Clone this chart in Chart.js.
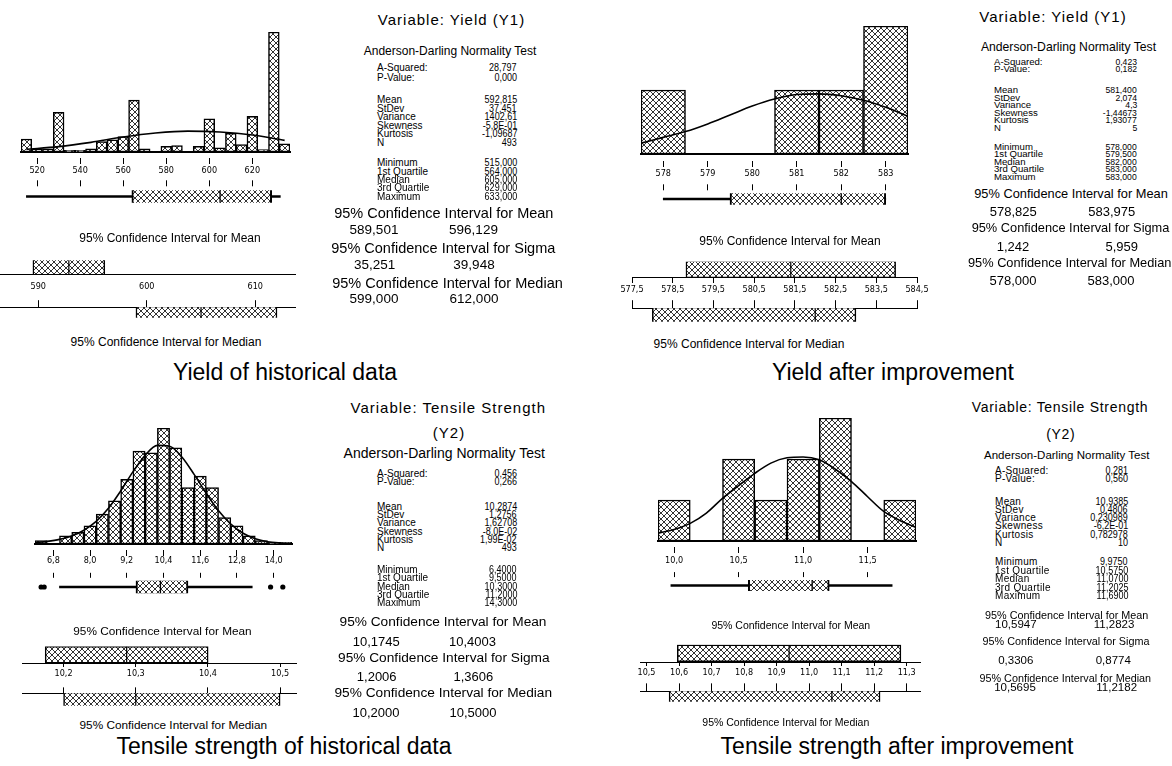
<!DOCTYPE html>
<html>
<head>
<meta charset="utf-8">
<script src="https://cdn.jsdelivr.net/npm/chart.js@4.4.1/dist/chart.umd.min.js"></script>
<style>
  html, body { margin: 0; padding: 0; background: #fff; }
  #fig { position: relative; width: 1172px; height: 766px; overflow: hidden; background: #fff;
         font-family: Arial, "Liberation Sans", sans-serif; color: #000; }
  #fig canvas { position: absolute; }
  .t { position: absolute; white-space: nowrap; line-height: 1; }
</style>
</head>
<body>
<div id="fig"></div>
<script>
// ---------- data ----------
// Yield (Y1), historical data
const yhBins = [515, 520, 525, 530, 535, 540, 545, 550, 555, 560, 565, 570, 575, 580, 585, 590, 595, 600, 605, 610, 615, 620, 625, 630, 635];
const yhCounts = [16, 4, 4, 49, 2, 2, 4, 13, 15, 19, 64, 4, 0, 7, 8, 0, 7, 41, 5, 23, 9, 44, 3, 148, 10];
const yhCurveX = [515, 530, 545, 560, 575, 590, 605, 620, 635];
const yhCurveY = [3.3, 6.6, 11.9, 18.5, 23.4, 25.8, 24.6, 20.9, 14.3];
const yhTicks = [520, 540, 560, 580, 600, 620];
const yhTickLabels = ['520', '540', '560', '580', '600', '620'];
const yhBox = [515, 564, 605, 629, 633];
const yhOutliers = [];
const yhMeanCI = [589.501, 592.815, 596.129];
const yhMedianCI = [599, 605, 612];
const yhCITicks = [590, 600, 610];
const yhCITickLabels = ['590', '600', '610'];

// Yield (Y1), after improvement
const yiBins = [578, 579, 580, 581, 582, 583];
const yiCounts = [1, 0, 0, 1, 1, 2];
const yiCurveX = [577.5, 578, 578.5, 579, 579.5, 580, 580.5, 581, 581.5, 582, 582.5, 583, 583.5];
const yiCurveY = [0.17, 0.26, 0.35, 0.47, 0.61, 0.75, 0.86, 0.93, 0.94, 0.91, 0.84, 0.73, 0.59];
const yiTicks = [578, 579, 580, 581, 582, 583];
const yiTickLabels = ['578', '579', '580', '581', '582', '583'];
const yiBox = [578, 579.5, 582, 583, 583];
const yiOutliers = [];
const yiMeanCI = [578.825, 581.4, 583.975];
const yiMedianCI = [578, 582, 583];
const yiCITicks = [577.5, 578.5, 579.5, 580.5, 581.5, 582.5, 583.5, 584.5];
const yiCITickLabels = ['577,5', '578,5', '579,5', '580,5', '581,5', '582,5', '583,5', '584,5'];

// Tensile Strength (Y2), historical data
const thBins = [6.4, 6.8, 7.2, 7.6, 8.0, 8.4, 8.8, 9.2, 9.6, 10.0, 10.4, 10.8, 11.2, 11.6, 12.0, 12.4, 12.8, 13.2, 13.6, 14.0, 14.4];
const thCounts = [2, 0, 5, 7, 11, 18, 26, 39, 56, 55, 70, 58, 34, 41, 34, 16, 11, 5, 2, 1, 1];
const thCurveX = [6.2, 6.6, 7.0, 7.4, 7.8, 8.2, 8.6, 9.0, 9.4, 9.8, 10.2, 10.6, 11.0, 11.4, 11.8, 12.2, 12.6, 13.0, 13.4, 13.8, 14.2, 14.6];
const thCurveY = [0.8, 1.6, 2.8, 4.8, 8.3, 13.6, 21.5, 32, 43.5, 53.5, 59.5, 59, 52.5, 42, 30.5, 20, 12, 6.5, 3.2, 1.4, 0.6, 0.2];
const thTicks = [6.8, 8.0, 9.2, 10.4, 11.6, 12.8, 14.0];
const thTickLabels = ['6,8', '8,0', '9,2', '10,4', '11,6', '12,8', '14,0'];
const thBox = [7.0, 9.5, 10.3, 11.2, 13.3];
const thOutliers = [6.4, 6.5, 13.9, 14.3];
const thMeanCI = [10.1745, 10.2874, 10.4003];
const thMedianCI = [10.2, 10.3, 10.5];
const thCITicks = [10.2, 10.3, 10.4, 10.5];
const thCITickLabels = ['10,2', '10,3', '10,4', '10,5'];

// Tensile Strength (Y2), after improvement
const tiBins = [10.0, 10.25, 10.5, 10.75, 11.0, 11.25, 11.5, 11.75];
const tiCounts = [1, 0, 2, 1, 2, 3, 0, 1];
const tiCurveX = [9.875, 10.0, 10.125, 10.25, 10.375, 10.5, 10.625, 10.75, 10.875, 11.0, 11.125, 11.25, 11.375, 11.5, 11.625, 11.75, 11.875];
const tiCurveY = [0.19, 0.28, 0.43, 0.68, 1.04, 1.35, 1.65, 1.9, 2.03, 2.05, 1.98, 1.75, 1.45, 1.08, 0.72, 0.5, 0.33];
const tiTicks = [10.0, 10.5, 11.0, 11.5];
const tiTickLabels = ['10,0', '10,5', '11,0', '11,5'];
const tiBox = [9.975, 10.575, 11.07, 11.2025, 11.69];
const tiOutliers = [];
const tiMeanCI = [10.5947, 10.9385, 11.2823];
const tiMedianCI = [10.5695, 11.07, 11.2182];
const tiCITicks = [10.5, 10.6, 10.7, 10.8, 10.9, 11.0, 11.1, 11.2, 11.3];
const tiCITickLabels = ['10,5', '10,6', '10,7', '10,8', '10,9', '11,0', '11,1', '11,2', '11,3'];

// summary text
const statNames = ['A-Squared:', 'P-Value:', 'Mean', 'StDev', 'Variance', 'Skewness', 'Kurtosis', 'N',
                   'Minimum', '1st Quartile', 'Median', '3rd Quartile', 'Maximum'];
const ciNames = ['95% Confidence Interval for Mean', '95% Confidence Interval for Sigma', '95% Confidence Interval for Median'];
const yhStats = ['28,797', '0,000', '592,815', '37,451', '1402,61', '-5,8E-01', '-1,09687', '493', '515,000', '564,000', '605,000', '629,000', '633,000'];
const yhCIText = [['589,501', '596,129'], ['35,251', '39,948'], ['599,000', '612,000']];
const yiStats = ['0,423', '0,182', '581,400', '2,074', '4,3', '-1,44673', '1,93077', '5', '578,000', '579,500', '582,000', '583,000', '583,000'];
const yiCIText = [['578,825', '583,975'], ['1,242', '5,959'], ['578,000', '583,000']];
const thStats = ['0,456', '0,266', '10,2874', '1,2756', '1,62708', '-8,0E-02', '1,99E-02', '493', '6,4000', '9,5000', '10,3000', '11,2000', '14,3000'];
const thCIText = [['10,1745', '10,4003'], ['1,2006', '1,3606'], ['10,2000', '10,5000']];
const tiStats = ['0,281', '0,560', '10,9385', '0,4806', '0,230989', '-6,2E-01', '0,782978', '10', '9,9750', '10,5750', '11,0700', '11,2025', '11,6900'];
const tiCIText = [['10,5947', '11,2823'], ['0,3306', '0,8774'], ['10,5695', '11,2182']];

// ---------- layout ----------
const G1 = {
  hist: { left: 20.5, right: 290, min: 512.5, max: 637.5, top: 32, base: 152, tickGap: 6, tickLen: 6, labelY: 171, ymax: 148 },
  box: { tickTop: 180, tickLen: 6, boxCenter: 201.7, boxH: 18 },
  ciA: { left: 0, right: 295, min: 586.47, max: 613.66, lineY: 274, labelY: 287, boxCenter: 262, boxH: 18, tickLen: 0 },
  ciB: { tickTop: 296, lineY: 303, boxCenter: 316, boxH: 20 },
  meanLabel: [170, 238, 12], medianLabel: [166, 341.7, 12],
  caption: ['Yield of historical data', 285, 372]
};
const G2 = {
  hist: { left: 640.7, right: 908.3, min: 577.5, max: 583.5, top: 26, base: 154, tickGap: 7, tickLen: 6, labelY: 173.3, ymax: 2 },
  box: { tickTop: 183, tickLen: 6, boxCenter: 203.7, boxH: 18 },
  ciA: { left: 631.7, right: 917.3, min: 577.5, max: 584.5, lineY: 277, labelY: 290, boxCenter: 264.7, boxH: 17, tickLen: 5 },
  ciB: { tickTop: 297, lineY: 305, boxCenter: 319, boxH: 20 },
  meanLabel: [790, 240.7, 12], medianLabel: [749, 344.3, 12],
  caption: ['Yield after improvement', 893, 372]
};
const G3 = {
  hist: { left: 34.9, right: 292.4, min: 6.2, max: 14.6, top: 428.3, base: 544, tickGap: 6, tickLen: 6, labelY: 560.7, ymax: 70 },
  box: { tickTop: 570.7, tickLen: 4.5, boxCenter: 590.8, boxH: 17 },
  ciA: { left: 21.7, right: 296, min: 10.1424, max: 10.522, lineY: 663.3, labelY: 674, boxCenter: 650, boxH: 16.6, tickLen: 3 },
  ciB: { tickTop: 682.7, lineY: 689.3, boxCenter: 703, boxH: 18.3 },
  meanLabel: [162.5, 632.3, 11.8], medianLabel: [173.3, 725.7, 11.8],
  caption: ['Tensile strength of historical data', 284, 746]
};
const G4 = {
  hist: { left: 657.7, right: 915.7, min: 9.875, max: 11.875, top: 417.7, base: 541, tickGap: 5.7, tickLen: 6.3, labelY: 560.7, ymax: 3 },
  box: { tickTop: 570, tickLen: 5, boxCenter: 589.5, boxH: 17.6 },
  ciA: { left: 640.3, right: 920, min: 10.48, max: 11.341, lineY: 661.7, labelY: 672.7, boxCenter: 648.3, boxH: 16.7, tickLen: 3 },
  ciB: { tickTop: 680, lineY: 688.3, boxCenter: 700.8, boxH: 20.3 },
  meanLabel: [790.8, 625, 10.5], medianLabel: [785.8, 722.3, 10.5],
  caption: ['Tensile strength after improvement', 897, 746]
};

const S1 = { title: ['Variable: Yield (Y1)', 451.5, 19.3, 15, 1], sub: null, ad: [450, 51, 12],
  lx: 377, vx: 517, ry: [68.3, 77.7], g2: [100, 8.5], g3: [163.3, 8.35], lf: 10, vf: 10, vs: 0.9, lls: 0,
  hx: [443.8, 443.3, 447.5], hy: [213.3, 248.3, 282.7], hf: 14.5,
  cl: [374, 374.7, 374], cr: [473.5, 474, 474], vy: [230, 265, 299.3], cf: 13.5 };
const S2 = { title: ['Variable: Yield (Y1)', 1053, 15.7, 15, 1], sub: null, ad: [1068.5, 46.7, 12.2],
  lx: 994, vx: 1137, ry: [61.7, 69.3], g2: [90, 7.55], g3: [146.7, 7.5], lf: 9.6, vf: 9.6, vs: 0.9, lls: 0,
  hx: [1071, 1070.5, 1069.7], hy: [194.3, 228.3, 263.3], hf: 12.8,
  cl: [1013.3, 1013, 1013], cr: [1111.7, 1121.7, 1111], vy: [211, 246, 280], cf: 13 };
const S3 = { title: ['Variable: Tensile Strength', 448.3, 406.7, 15, 1], sub: ['(Y2)', 449, 431.7], ad: [444.2, 453.3, 14],
  lx: 377, vx: 517, ry: [474, 482], g2: [506.7, 8.33], g3: [570, 8.33], lf: 10, vf: 10, vs: 0.9, lls: 0,
  hx: [443, 443.8, 443.3], hy: [621.7, 658.3, 693.3], hf: 13.7,
  cl: [376.3, 376.7, 376], cr: [472.5, 473.3, 473], vy: [640.7, 676, 711.7], cf: 13 };
const S4 = { title: ['Variable: Tensile Strength', 1060, 406.9, 14, 0.7], sub: ['(Y2)', 1060.8, 433.9], ad: [1066.7, 456.1, 11.5],
  lx: 995, vx: 1128, ry: [470.8, 478.9], g2: [501.8, 8.2], g3: [562.2, 8.45], lf: 10, vf: 10, vs: 0.9, lls: 0.3,
  hx: [1066.7, 1066, 1065.3], hy: [614.8, 641.2, 678.1], hf: 10.8,
  cl: [1015.8, 1015.8, 1015], cr: [1114, 1113.3, 1116.7], vy: [624.8, 660.5, 687.8], cf: 11.5 };

// ---------- drawing ----------
const fig = document.getElementById('fig');
const PAD = 24;
const tickFont = { size: 9, family: "'Liberation Sans Narrow', 'DejaVu Sans Condensed', Arial" };
Chart.defaults.color = '#000';

function addCanvas(left, top, w, h) {
  const c = document.createElement('canvas');
  c.width = w; c.height = h;
  c.style.left = left + 'px'; c.style.top = top + 'px';
  c.style.width = w + 'px'; c.style.height = h + 'px';
  fig.appendChild(c);
  return c;
}

// cross-hatch fill like the Minitab bars
function hatch(canvas) {
  const tile = document.createElement('canvas');
  tile.width = 6; tile.height = 6;
  const g = tile.getContext('2d');
  g.fillStyle = '#fff'; g.fillRect(0, 0, 6, 6);
  g.fillStyle = '#333';
  for (let i = 0; i < 6; i++) { g.fillRect(i, i, 1, 1); g.fillRect(5 - i, i, 1, 1); }
  return canvas.getContext('2d').createPattern(tile, 'repeat');
}

function tickDash(gap, len) {
  return { tickBorderDash: [len, 200], tickBorderDashOffset: len + 200 - Math.max(gap, 0) };
}

function baseOpts(extra) {
  return Object.assign({
    responsive: false, animation: false, events: [],
    plugins: { legend: { display: false }, tooltip: { enabled: false } }
  }, extra);
}

function forcedTicks(ticks) {
  return a => { a.ticks = ticks.map(v => ({ value: v })); };
}

function drawHist(g, bins, counts, cx, cy, ticks, labels) {
  const L = Math.round(g.left) - PAD, T = Math.round(g.top) - 4;
  const W = Math.round(g.right) - Math.round(g.left) + 2 * PAD;
  const tl = Math.round(g.tickGap + g.tickLen);
  const axisH = 30;
  const H = Math.round(g.base) - T + axisH;
  const cv = addCanvas(L, T, W, H);
  const pat = hatch(cv);
  new Chart(cv, {
    type: 'bar',
    data: { datasets: [
      { type: 'line', data: cx.map((x, i) => ({ x, y: cy[i] })), borderColor: '#000', borderWidth: 1.6,
        pointRadius: 0, cubicInterpolationMode: 'monotone', order: 0 },
      { type: 'bar', data: bins.map((x, i) => ({ x, y: counts[i] })), backgroundColor: pat, borderColor: '#000',
        borderWidth: 1.5, borderSkipped: false, barPercentage: 1, categoryPercentage: 1, grouped: false, order: 1 }
    ] },
    options: baseOpts({
      layout: { padding: { top: 4, left: PAD, right: PAD, bottom: 0 } },
      scales: {
        x: { type: 'linear', min: g.min, max: g.max, offset: false,
          afterBuildTicks: forcedTicks(ticks),
          afterFit: s => { s.height = axisH; },
          ticks: { autoSkip: false, maxRotation: 0, color: '#000', font: tickFont,
                   padding: g.labelY - g.base - tl - 5.4, callback: (v, i) => labels[i] },
          grid: Object.assign({ drawOnChartArea: false, offset: false, tickLength: tl, tickColor: '#000', tickWidth: 1 },
                              tickDash(Math.round(g.tickGap) - 1, Math.round(g.tickLen))),
          border: { display: true, color: '#000', width: 2 } },
        y: { display: false, min: 0, max: g.ymax, offset: false }
      }
    })
  });
}

function drawBox(h, g, box, outliers) {
  const L = Math.round(h.left) - PAD;
  const W = Math.round(h.right) - Math.round(h.left) + 2 * PAD;
  const T = Math.round(g.tickTop);
  const chartTop = Math.round(g.boxCenter - g.boxH / 2 - 3);
  const tl = chartTop - T;
  const half = g.boxCenter - chartTop;
  const H = Math.round(tl + 2 * half);
  const cv = addCanvas(L, T, W, H);
  const pat = hatch(cv);
  const bar = (a, b, th, fill, bw) => ({ data: [{ x: [a, b], y: 0.5 }], barThickness: th, backgroundColor: fill,
    borderColor: '#000', borderWidth: bw, borderSkipped: false, grouped: false });
  new Chart(cv, {
    type: 'bar',
    data: { datasets: [
      { type: 'scatter', indexAxis: 'x', data: [{ x: box[2], y: 0.5 }], pointStyle: 'line', pointRotation: 90,
        pointRadius: g.boxH / 2, pointBorderColor: '#000', pointBorderWidth: 1.3, order: 0 },
      { type: 'scatter', indexAxis: 'x', data: outliers.map(x => ({ x, y: 0.5 })), pointRadius: 2.6,
        pointBackgroundColor: '#000', pointBorderWidth: 0, order: 0 },
      Object.assign(bar(box[0], box[1], 2, '#000', 0), { order: 2 }),
      Object.assign(bar(box[3], box[4], 2, '#000', 0), { order: 2 }),
      Object.assign(bar(box[1], box[3], g.boxH, pat, 2), { order: 1 })
    ] },
    options: baseOpts({
      indexAxis: 'y',
      layout: { padding: { top: 0, left: PAD, right: PAD, bottom: 0 } },
      scales: {
        x: { type: 'linear', position: 'top', min: h.min, max: h.max, offset: false,
          afterBuildTicks: forcedTicks(h.ticks),
          afterFit: s => { s.height = tl; },
          ticks: { display: false },
          grid: Object.assign({ drawOnChartArea: false, offset: false, tickLength: tl, tickColor: '#000', tickWidth: 1 },
                              tickDash(0, Math.round(g.tickLen))),
          border: { display: false } },
        y: { type: 'linear', display: false, min: 0, max: 1, offset: false, grid: { offset: false } }
      }
    })
  });
}

function ciDatasets(ci, g, pat) {
  return [
    { type: 'scatter', indexAxis: 'x', data: [{ x: ci[1], y: 0.5 }], pointStyle: 'line', pointRotation: 90,
      pointRadius: g.boxH / 2, pointBorderColor: '#000', pointBorderWidth: 1.2, order: 0 },
    { data: [{ x: [ci[0], ci[2]], y: 0.5 }], barThickness: g.boxH, backgroundColor: pat, borderColor: '#000',
      borderWidth: 1.5, borderSkipped: false, grouped: false, order: 1 }
  ];
}

function drawCIA(g, ci, ticks, labels) {
  const L = Math.round(g.left) - PAD;
  const W = Math.round(g.right) - Math.round(g.left) + 2 * PAD;
  const half = g.lineY - g.boxCenter;
  const T = Math.round(g.boxCenter - half);
  const chartH = Math.round(g.lineY) - T;
  const axisH = 20;
  const tl = 1 + g.tickLen;
  const cv = addCanvas(L, T, W, chartH + axisH);
  const pat = hatch(cv);
  new Chart(cv, {
    type: 'bar',
    data: { datasets: ciDatasets(ci, g, pat) },
    options: baseOpts({
      indexAxis: 'y',
      layout: { padding: { top: 0, left: PAD, right: PAD, bottom: 0 } },
      scales: {
        x: { type: 'linear', position: 'bottom', min: g.min, max: g.max, offset: false,
          afterBuildTicks: forcedTicks(ticks),
          afterFit: s => { s.height = axisH; },
          ticks: { autoSkip: false, maxRotation: 0, color: '#000', font: tickFont,
                   padding: g.labelY - g.lineY - tl - 5.4, callback: (v, i) => labels[i] },
          grid: { drawOnChartArea: false, offset: false, tickLength: tl, tickColor: '#000', tickWidth: 1 },
          border: { display: true, color: '#000', width: 1 } },
        y: { type: 'linear', display: false, min: 0, max: 1, offset: false, grid: { offset: false } }
      }
    })
  });
}

function drawCIB(a, g, ci, ticks) {
  const L = Math.round(a.left) - PAD;
  const W = Math.round(a.right) - Math.round(a.left) + 2 * PAD;
  const T = Math.round(g.tickTop);
  const tl = Math.round(g.lineY) - T;
  const half = g.boxCenter - g.lineY;
  const cv = addCanvas(L, T, W, tl + Math.round(2 * half));
  const pat = hatch(cv);
  new Chart(cv, {
    type: 'bar',
    data: { datasets: ciDatasets(ci, g, pat) },
    options: baseOpts({
      indexAxis: 'y',
      layout: { padding: { top: 0, left: PAD, right: PAD, bottom: 0 } },
      scales: {
        x: { type: 'linear', position: 'top', min: a.min, max: a.max, offset: false,
          afterBuildTicks: forcedTicks(ticks),
          afterFit: s => { s.height = tl; },
          ticks: { display: false },
          grid: { drawOnChartArea: false, offset: false, tickLength: tl, tickColor: '#000', tickWidth: 1 },
          border: { display: true, color: '#000', width: 1 } },
        y: { type: 'linear', display: false, min: 0, max: 1, offset: false, grid: { offset: false } }
      }
    })
  });
}

function text(str, x, y, size, align, opt) {
  const d = document.createElement('div');
  d.className = 't';
  d.textContent = str;
  d.style.fontSize = size + 'px';
  d.style.top = y + 'px';
  opt = opt || {};
  if (opt.ls) d.style.letterSpacing = opt.ls + 'px';
  if (align === 'center') {
    d.style.left = x + 'px'; d.style.transform = 'translate(-50%,-50%)';
  } else if (align === 'left') {
    d.style.left = x + 'px'; d.style.transform = 'translateY(-50%)';
  } else {
    d.style.right = (1172 - x) + 'px';
    d.style.transformOrigin = '100% 50%';
    d.style.transform = 'translateY(-50%)' + (opt.sx ? ' scaleX(' + opt.sx + ')' : '');
  }
  fig.appendChild(d);
}

function drawStats(s, vals, ciVals) {
  text(s.title[0], s.title[1], s.title[2], s.title[3], 'center', { ls: s.title[4] });
  if (s.sub) text(s.sub[0], s.sub[1], s.sub[2], s.title[3], 'center', { ls: s.title[4] });
  text('Anderson-Darling Normality Test', s.ad[0], s.ad[1], s.ad[2], 'center');
  const ys = [s.ry[0], s.ry[1]];
  for (let k = 0; k < 6; k++) ys.push(s.g2[0] + k * s.g2[1]);
  for (let k = 0; k < 5; k++) ys.push(s.g3[0] + k * s.g3[1]);
  statNames.forEach((n, i) => {
    text(n, s.lx, ys[i], s.lf, 'left', { ls: s.lls });
    text(vals[i], s.vx, ys[i], s.vf, 'right', { sx: s.vs });
  });
  ciNames.forEach((n, i) => {
    text(n, s.hx[i], s.hy[i], s.hf, 'center');
    text(ciVals[i][0], s.cl[i], s.vy[i], s.cf, 'center');
    text(ciVals[i][1], s.cr[i], s.vy[i], s.cf, 'center');
  });
}

function drawPanel(G, S, d) {
  const h = Object.assign({ ticks: d.ticks }, G.hist);
  drawHist(G.hist, d.bins, d.counts, d.cx, d.cy, d.ticks, d.labels);
  drawBox(h, G.box, d.box, d.outliers);
  drawCIA(G.ciA, d.mean, d.ciTicks, d.ciLabels);
  drawCIB(G.ciA, G.ciB, d.median, d.ciTicks);
  text('95% Confidence Interval for Mean', G.meanLabel[0], G.meanLabel[1], G.meanLabel[2], 'center');
  text('95% Confidence Interval for Median', G.medianLabel[0], G.medianLabel[1], G.medianLabel[2], 'center');
  text(G.caption[0], G.caption[1], G.caption[2], 23, 'center');
  drawStats(S, d.stats, d.ciText);
}

drawPanel(G1, S1, { bins: yhBins, counts: yhCounts, cx: yhCurveX, cy: yhCurveY, ticks: yhTicks, labels: yhTickLabels,
  box: yhBox, outliers: yhOutliers, mean: yhMeanCI, median: yhMedianCI, ciTicks: yhCITicks, ciLabels: yhCITickLabels,
  stats: yhStats, ciText: yhCIText });
drawPanel(G2, S2, { bins: yiBins, counts: yiCounts, cx: yiCurveX, cy: yiCurveY, ticks: yiTicks, labels: yiTickLabels,
  box: yiBox, outliers: yiOutliers, mean: yiMeanCI, median: yiMedianCI, ciTicks: yiCITicks, ciLabels: yiCITickLabels,
  stats: yiStats, ciText: yiCIText });
drawPanel(G3, S3, { bins: thBins, counts: thCounts, cx: thCurveX, cy: thCurveY, ticks: thTicks, labels: thTickLabels,
  box: thBox, outliers: thOutliers, mean: thMeanCI, median: thMedianCI, ciTicks: thCITicks, ciLabels: thCITickLabels,
  stats: thStats, ciText: thCIText });
drawPanel(G4, S4, { bins: tiBins, counts: tiCounts, cx: tiCurveX, cy: tiCurveY, ticks: tiTicks, labels: tiTickLabels,
  box: tiBox, outliers: tiOutliers, mean: tiMeanCI, median: tiMedianCI, ciTicks: tiCITicks, ciLabels: tiCITickLabels,
  stats: tiStats, ciText: tiCIText });
</script>
</body>
</html>
